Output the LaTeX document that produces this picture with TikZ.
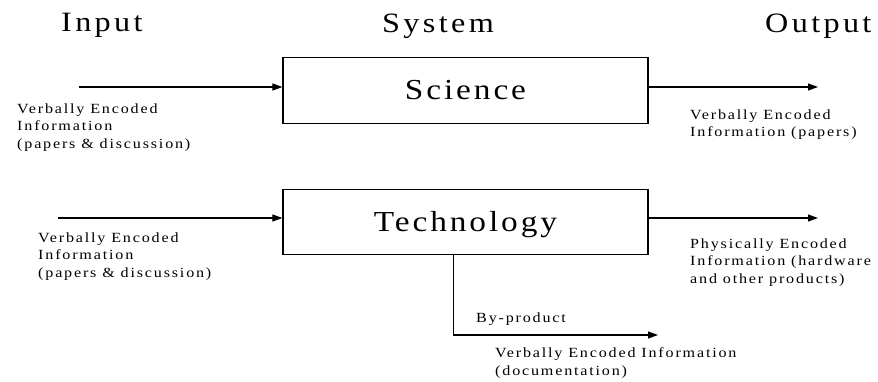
\documentclass[tikz,border=0pt]{standalone}
\usepackage{fontspec}
\setmainfont{Liberation Serif}
\newfontfamily\headfont[FakeStretch=1.15, LetterSpace=12]{Liberation Serif}
\newfontfamily\boxfont[FakeStretch=1.15, LetterSpace=10]{Liberation Serif}
\newfontfamily\notefont[FakeStretch=1.15, LetterSpace=13]{Liberation Serif}
\usetikzlibrary{arrows.meta}

\begin{document}
\begin{tikzpicture}[
  x=1pt, y=-1pt,
  head/.style={
    anchor=base west,
    inner sep=0pt,
    font=\headfont\fontsize{28}{32}\selectfont
  },
  sysbox/.style={
    rectangle,
    draw,
    line width=1.2pt,
    minimum width=365pt,
    inner sep=0pt,
    text height=19pt,
    text depth=0pt,
    font=\boxfont\fontsize{29}{34}\selectfont
  },
  note/.style={
    anchor=base west,
    inner sep=0pt,
    align=left,
    font=\notefont\fontsize{14}{17.5}\selectfont
  },
  arrow/.style={-{Triangle[length=10pt, width=7pt]}, line width=1.1pt}
]
\useasboundingbox (0,0) rectangle (878,381);

% Column headings
\node[head] (input) at (61,31) {Input};
\node[head] (system) at (382,32) {System};
\node[head] (output) at (765,32) {Output};

% Science (top)
\node[sysbox, minimum height=66pt] (sci) at (465.5,90.3) {Science};

% Technology (bottom)
\node[sysbox, minimum height=65pt] (tech) at (465.5,221.6) {Technology};

% Free ends of the flows
\coordinate (sciin) at (79,87);
\coordinate (sciout) at (818,87);
\coordinate (techin) at (58,218);
\coordinate (techout) at (818,218);
\coordinate (byend) at (658,335);

% Flows in and out
\draw[arrow] (sciin) -- (sciin -| sci.west);
\draw[arrow] (sci.east |- sciout) -- (sciout);
\draw[arrow] (techin) -- (techin -| tech.west);
\draw[arrow] (tech.east |- techout) -- (techout);
\draw[arrow] ([xshift=171pt]tech.south west) |- (byend);

% What flows (placed by the baseline of the last line)
\node[note] (sciinfo) at (17,148) {Verbally Encoded\\Information\\(papers \& discussion)};
\node[note] (scipapers) at (690,136.5) {Verbally Encoded\\Information (papers)};
\node[note] (techinfo) at (38,277) {Verbally Encoded\\Information\\(papers \& discussion)};
\node[note] (techhw) at (690,283) {Physically Encoded\\Information (hardware\\and other products)};
\node[note] (byprod) at (476,322) {By-product};
\node[note] (techdoc) at (495,375) {Verbally Encoded Information\\(documentation)};

\end{tikzpicture}
\end{document}
